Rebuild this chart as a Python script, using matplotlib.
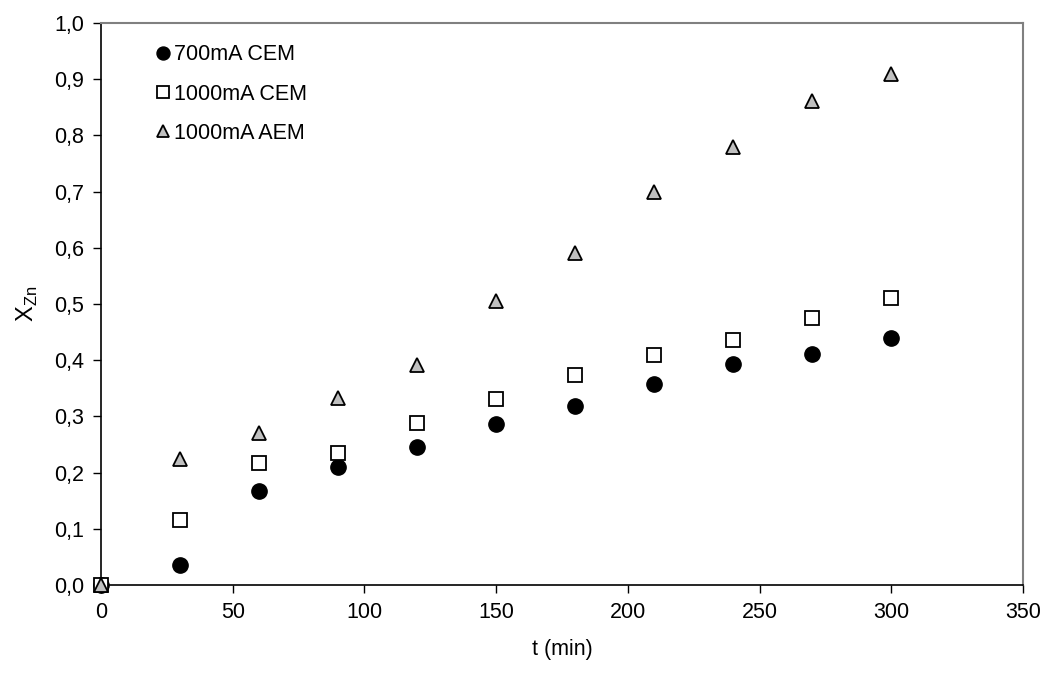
import matplotlib.pyplot as plt
from matplotlib.ticker import FuncFormatter, MultipleLocator

plt.rcParams['font.family'] = ['Liberation Sans', 'DejaVu Sans']

t = [0, 30, 60, 90, 120, 150, 180, 210, 240, 270, 300]
cem_700 = [0.0, 0.036, 0.168, 0.210, 0.246, 0.286, 0.318, 0.357, 0.394, 0.412, 0.439]
cem_1000 = [0.0, 0.115, 0.217, 0.235, 0.288, 0.332, 0.374, 0.409, 0.436, 0.475, 0.510]
aem_1000 = [0.0, 0.225, 0.271, 0.333, 0.392, 0.505, 0.591, 0.700, 0.780, 0.862, 0.910]

fig = plt.figure(figsize=(10.47, 6.78), dpi=100)
ax = fig.add_axes([0.0965, 0.137, 0.8805, 0.829])

ax.plot(t, cem_700, 'o', color='black', markersize=11, label='700mA CEM',
        zorder=3, clip_on=False)
ax.plot(t, cem_1000, 's', markerfacecolor='white', markeredgecolor='black',
        markeredgewidth=1.3, markersize=10, label='1000mA CEM', zorder=3, clip_on=False)
ax.plot(t, aem_1000, '^', markerfacecolor='#c0c0c0', markeredgecolor='black',
        markeredgewidth=1.3, markersize=10, label='1000mA AEM', zorder=4, clip_on=False)

ax.set_xlim(0, 350)
ax.set_ylim(0, 1.0)
ax.xaxis.set_major_locator(MultipleLocator(50))
ax.yaxis.set_major_locator(MultipleLocator(0.1))
ax.yaxis.set_major_formatter(FuncFormatter(lambda v, p: f'{v:.1f}'.replace('.', ',')))
ax.tick_params(labelsize=15.5, direction='out', length=6, width=1, pad=6)

for s in ['top', 'right']:
    ax.spines[s].set_color('#808080')
    ax.spines[s].set_linewidth(1.5)
for s in ['left', 'bottom']:
    ax.spines[s].set_color('black')
    ax.spines[s].set_linewidth(1.2)

ax.set_xlabel('t (min)', fontsize=15.5, labelpad=12)
ax.set_ylabel('X$_{\\mathregular{Zn}}$', fontsize=17, labelpad=10)

leg = ax.legend(loc='upper left', bbox_to_anchor=(0.03, 1.012), frameon=False, fontsize=15.5,
                handlelength=0.6, handletextpad=0.2, labelspacing=0.85, borderpad=0.8,
                markerscale=0.85)

fig.savefig('out.png', dpi=100)
